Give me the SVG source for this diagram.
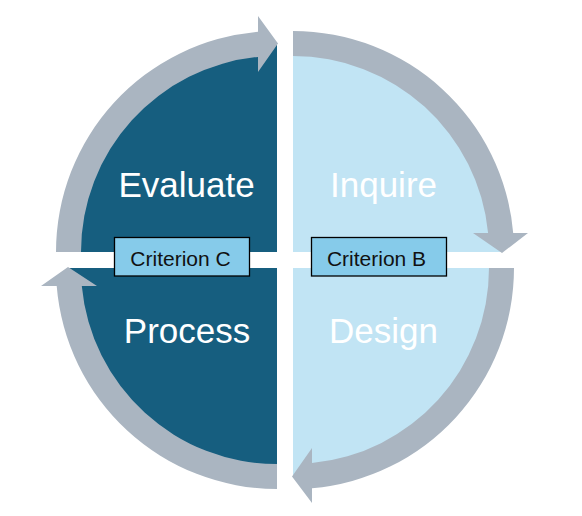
<svg xmlns="http://www.w3.org/2000/svg" width="582" height="516" viewBox="0 0 582 516">
<style>
.dark{fill:#165E7F}
.light{fill:#C1E4F4}
.band{fill:#AAB5C1}
.big{font-family:"Liberation Sans",Arial,sans-serif;font-size:35px;fill:#FFFFFF;text-anchor:middle}
.box{fill:#86CBEA;stroke:#000000;stroke-width:1.3}
.crit{font-family:"Liberation Sans",Arial,sans-serif;font-size:21px;fill:#111111;text-anchor:middle}
</style>
<rect width="582" height="516" fill="#FFFFFF"/>
<g id="evaluate">
<path class="dark" d="M 277 252 L 69 252 A 208 208 0 0 1 277 44 Z"/>
<text class="big" x="186.5" y="197">Evaluate</text>
</g>
<g id="inquire">
<path class="light" d="M 293 252 L 293 44 A 208 208 0 0 1 501 252 Z"/>
<text class="big" x="383.5" y="197">Inquire</text>
</g>
<g id="process">
<path class="dark" d="M 277 268 L 277 476 A 208 208 0 0 1 69 268 Z"/>
<text class="big" x="187" y="343">Process</text>
</g>
<g id="design">
<path class="light" d="M 293 268 L 501 268 A 208 208 0 0 1 293 476 Z"/>
<text class="big" x="383.5" y="343">Design</text>
</g>
<g id="connectors">
<path class="band" d="M 56 252 A 221 221 0 0 1 258 31.8 L 258 16 L 278 43.5 L 258 72 L 258 56.9 A 196 196 0 0 0 81 252 Z"/>
<path class="band" d="M 293 31 A 221 221 0 0 1 513.2 233 L 528 233 L 502 253 L 473 233 L 488.1 233 A 196 196 0 0 0 293 56 Z"/>
<path class="band" d="M 514 268 A 221 221 0 0 1 312 488.2 L 312 503 L 292 476.5 L 312 448 L 312 463.1 A 196 196 0 0 0 489 268 Z"/>
<path class="band" d="M 277 489 A 221 221 0 0 1 56.7 286 L 41 286 L 68 267 L 97 286 L 81.8 286 A 196 196 0 0 0 277 464 Z"/>
</g>
<g id="criterion-c">
<rect class="box" x="114.5" y="237.5" width="135" height="38.5"/>
<text class="crit" x="180.5" y="266">Criterion C</text>
</g>
<g id="criterion-b">
<rect class="box" x="311.5" y="237.5" width="135" height="38.5"/>
<text class="crit" x="376.5" y="266">Criterion B</text>
</g>
</svg>
